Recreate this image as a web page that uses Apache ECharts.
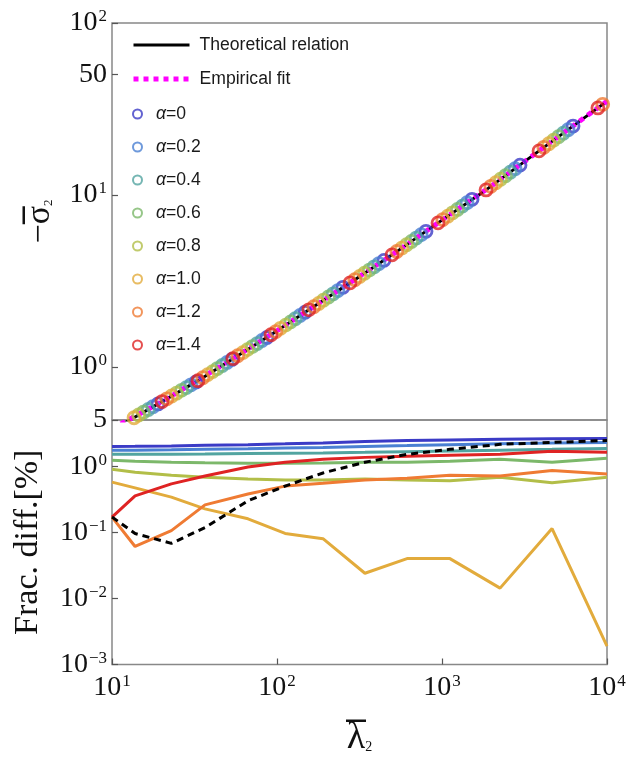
<!DOCTYPE html>
<html>
<head>
<meta charset="utf-8">
<script src="https://cdn.jsdelivr.net/npm/echarts@6/dist/echarts.min.js"></script>
<style>
  html, body { margin: 0; padding: 0; background: #fff; }
  #chart { width: 634px; height: 758px; }
</style>
</head>
<body>
<div id="chart"></div>
<script>
// ---- data ----
const alphaNames = ["α=0", "α=0.2", "α=0.4", "α=0.6", "α=0.8", "α=1.0", "α=1.2", "α=1.4"];
const alphaColors = ["#3b3bc6", "#4a80d2", "#52a4a0", "#7cb86a", "#b2be48", "#e2ab3c", "#ef7b33", "#df2323"];

// top panel: theoretical relation and empirical fit
const lambdaTheory = [10, 11.8, 20.1, 33.2, 54.1, 92, 156, 277, 498, 946, 1849, 3873, 8810, 10000];
const sigmaTheory = [0.43, 0.468, 0.627, 0.83, 1.114, 1.535, 2.143, 3.076, 4.477, 6.871, 10.69, 18.03, 32.06, 35.1];
const lambdaFit = [10, 20, 50, 100, 200, 500, 1000, 2000, 5000, 10000];
const sigmaFit = [0.436, 0.625, 1.064, 1.62, 2.51, 4.49, 7.13, 11.3, 21.6, 35.1];

// top panel: simulated points per alpha
const lamA00 = [19.0, 32.3, 53.3, 86.9, 148, 251, 445, 800, 1521, 2971, 6224];
const sigA00 = [0.608, 0.815, 1.103, 1.480, 2.075, 2.897, 4.159, 6.138, 9.420, 14.90, 25.13];
const lamA02 = [17.7, 30.1, 49.8, 81.1, 138, 234, 415, 747, 1419, 2774, 5810];
const sigA02 = [0.586, 0.785, 1.059, 1.421, 1.988, 2.775, 3.983, 5.865, 9.001, 14.21, 23.96];
const lamA04 = [16.6, 28.2, 46.6, 75.9, 129, 219, 388, 698, 1328, 2594, 5434];
const sigA04 = [0.564, 0.756, 1.017, 1.365, 1.903, 2.657, 3.814, 5.605, 8.603, 13.56, 22.86];
const lamA06 = [15.5, 26.4, 43.5, 71.0, 121, 205, 363, 653, 1241, 2426, 5081];
const sigA06 = [0.544, 0.729, 0.976, 1.310, 1.824, 2.546, 3.654, 5.359, 8.225, 12.92, 21.80];
const lamA08 = [14.5, 24.6, 40.7, 66.2, 113, 191, 339, 610, 1159, 2265, 4744];
const sigA08 = [0.524, 0.702, 0.937, 1.258, 1.747, 2.439, 3.500, 5.126, 7.867, 12.33, 20.79];
const lamA10 = [13.6, 23.0, 38.0, 62.0, 105, 179, 317, 570, 1084, 2119, 4438];
const sigA10 = [0.505, 0.676, 0.900, 1.208, 1.673, 2.336, 3.353, 4.898, 7.517, 11.76, 19.83];
const lamA12 = [12.6, 21.5, 35.5, 57.8, 98.4, 167, 296, 532, 1011, 1977, 4140, 9418];
const sigA12 = [0.486, 0.651, 0.864, 1.160, 1.603, 2.237, 3.211, 4.683, 7.187, 11.21, 18.91, 33.63];
const lamA14 = [11.8, 20.1, 33.2, 54.1, 92.0, 156, 277, 498, 946, 1849, 3873, 8810];
const sigA14 = [0.468, 0.627, 0.830, 1.114, 1.535, 2.143, 3.076, 4.477, 6.871, 10.69, 18.03, 32.06];

// bottom panel: fractional difference [%]
const lambdaDiff = [10, 13.8, 22.9, 36.6, 66.7, 112, 190, 341, 614, 1117, 2249, 4645, 10000];
const diffA00 = [1.99, 2.00, 2.03, 2.07, 2.12, 2.18, 2.25, 2.37, 2.44, 2.50, 2.55, 2.60, 2.63];
const diffA02 = [1.74, 1.75, 1.77, 1.80, 1.84, 1.88, 1.92, 1.99, 2.05, 2.12, 2.18, 2.24, 2.29];
const diffA04 = [1.51, 1.51, 1.52, 1.53, 1.55, 1.57, 1.59, 1.62, 1.66, 1.70, 1.75, 1.80, 1.86];
const diffA06 = [1.23, 1.19, 1.15, 1.13, 1.11, 1.11, 1.12, 1.15, 1.15, 1.19, 1.27, 1.15, 1.32];
const diffA08 = [0.90, 0.81, 0.73, 0.68, 0.64, 0.62, 0.62, 0.64, 0.62, 0.60, 0.68, 0.56, 0.68];
const diffA10 = [0.575, 0.47, 0.34, 0.226, 0.16, 0.096, 0.080, 0.024, 0.040, 0.040, 0.0143, 0.114, 0.0019];
const diffA12 = [0.17, 0.061, 0.106, 0.26, 0.38, 0.50, 0.55, 0.62, 0.66, 0.73, 0.71, 0.86, 0.76];
const diffA14 = [0.17, 0.355, 0.54, 0.71, 0.97, 1.15, 1.27, 1.36, 1.41, 1.46, 1.51, 1.68, 1.62];
const diffTheory = [0.17, 0.096, 0.068, 0.118, 0.30, 0.50, 0.79, 1.15, 1.51, 1.80, 2.14, 2.29, 2.45];

// tick values
const xTicks = [10, 100, 1000, 10000];
const yTopTicks = [1, 10, 50, 100];
const yBottomTicks = [0.001, 0.01, 0.1, 1, 5];

const scatterLams = [lamA00, lamA02, lamA04, lamA06, lamA08, lamA10, lamA12, lamA14];
const scatterSigs = [sigA00, sigA02, sigA04, sigA06, sigA08, sigA10, sigA12, sigA14];
const diffSeries = [diffA00, diffA02, diffA04, diffA06, diffA08, diffA10, diffA12, diffA14];

function zip(xs, ys) {
  return xs.map((x, i) => [x, ys[i]]);
}

// "10^n" labels with superscript, plain numbers otherwise
function tickLabel(v) {
  const lg = Math.log10(v);
  const e = Math.round(lg);
  if (Math.abs(lg - e) < 1e-6) {
    return "{b|10}{s|" + (e < 0 ? "−" + (-e) : e) + "}";
  }
  return "{b|" + Math.round(v) + "}";
}

const serif = "Liberation Serif";
const ink = "#111";
const labelRich = {
  b: { fontFamily: serif, fontSize: 28, color: ink },
  s: { fontFamily: serif, fontSize: 17, color: ink, verticalAlign: "top", padding: [0, 0, 12, 1] },
};

const tickStyle = { show: true, inside: true, length: 6, lineStyle: { color: "#555", width: 1.2 } };

// overline drawn as a thin filled token above the symbol
const overline = (w) => ({ width: w, height: 2.5, lineHeight: 2.5, fontSize: 2, backgroundColor: ink });
const spacer = (w) => ({ width: w, height: 2.5, lineHeight: 2.5, fontSize: 2 });

const chart = echarts.init(document.getElementById("chart"));

const series = [];

series.push({
  name: "Theoretical relation",
  type: "line",
  xAxisIndex: 0,
  yAxisIndex: 0,
  data: zip(lambdaTheory, sigmaTheory),
  symbol: "none",
  lineStyle: { color: "#000", width: 3 },
  itemStyle: { color: "#000" },
  z: 1,
});

series.push({
  name: "Empirical fit",
  type: "line",
  xAxisIndex: 0,
  yAxisIndex: 0,
  data: zip(lambdaFit, sigmaFit),
  symbol: "none",
  lineStyle: { color: "#ff00ff", width: 5, type: [5, 5], cap: "butt" },
  itemStyle: { color: "#ff00ff" },
  z: 2,
});

alphaNames.forEach((name, i) => {
  series.push({
    name: name,
    type: "scatter",
    xAxisIndex: 0,
    yAxisIndex: 0,
    data: zip(scatterLams[i], scatterSigs[i]),
    symbol: "circle",
    symbolSize: 12,
    itemStyle: { color: "rgba(255,255,255,0)", borderColor: alphaColors[i], borderWidth: 2.8 },
    z: 3,
  });
});

alphaNames.forEach((name, i) => {
  series.push({
    name: "diff " + name,
    type: "line",
    xAxisIndex: 1,
    yAxisIndex: 1,
    data: zip(lambdaDiff, diffSeries[i]),
    symbol: "none",
    lineStyle: { color: alphaColors[i], width: 3 },
    z: 2,
  });
});

series.push({
  name: "diff theory",
  type: "line",
  xAxisIndex: 1,
  yAxisIndex: 1,
  data: zip(lambdaDiff, diffTheory),
  symbol: "none",
  lineStyle: { color: "#000", width: 3, type: [7, 5] },
  z: 3,
});

const option = {
  animation: false,
  backgroundColor: "#fff",
  grid: [
    { left: 112, top: 23, width: 495, height: 397, show: true, borderColor: "#888", borderWidth: 1.5 },
    { left: 112, top: 420, width: 495, height: 247, show: true, borderColor: "#888", borderWidth: 1.5 },
  ],
  legend: [
    {
      data: ["Theoretical relation", "Empirical fit"],
      orient: "vertical",
      left: 131,
      top: 36,
      padding: 0,
      itemWidth: 56,
      itemHeight: 14,
      itemGap: 16,
      selectedMode: false,
      itemStyle: { opacity: 0 },
      lineStyle: { width: "inherit" },
      textStyle: { fontFamily: "Liberation Sans", fontSize: 17.6, color: "#1a1a1a", lineHeight: 18, padding: [0, 0, 0, 5] },
    },
    {
      data: alphaNames,
      orient: "vertical",
      left: 132,
      top: 105,
      padding: 0,
      itemWidth: 9,
      itemHeight: 9,
      itemGap: 15,
      icon: "circle",
      selectedMode: false,
      formatter: function (name) {
        return "{i|α}" + name.slice(1);
      },
      textStyle: {
        fontFamily: "Liberation Sans",
        fontSize: 17.6,
        color: "#1a1a1a",
        lineHeight: 18,
        padding: [0, 0, 0, 9],
        rich: {
          i: { fontFamily: "Liberation Sans", fontStyle: "italic", fontSize: 17.6, color: "#1a1a1a" },
        },
      },
    },
  ],
  xAxis: [
    {
      type: "log",
      gridIndex: 0,
      min: 10,
      max: 10000,
      axisLine: { show: false },
      axisTick: { show: false },
      axisLabel: { show: false },
      splitLine: { show: false },
    },
    {
      type: "log",
      gridIndex: 1,
      min: 10,
      max: 10000,
      axisLine: { show: false },
      axisTick: Object.assign({ customValues: xTicks }, tickStyle),
      axisLabel: { customValues: xTicks, formatter: tickLabel, rich: labelRich, margin: 9 },
      splitLine: { show: false },
      name: "{ov| }{sp| }\n{lam|λ}{sub|2}",
      nameLocation: "middle",
      nameGap: 55,
      nameTextStyle: {
        fontFamily: serif,
        fontSize: 38,
        color: ink,
        rich: {
          ov: overline(20),
          sp: spacer(7),
          lam: { fontFamily: serif, fontSize: 38, color: ink, lineHeight: 32 },
          sub: { fontFamily: serif, fontSize: 14, color: ink, verticalAlign: "bottom", lineHeight: 32 },
        },
      },
    },
  ],
  yAxis: [
    {
      type: "log",
      gridIndex: 0,
      min: 0.49,
      max: 100,
      axisLine: { show: false },
      axisTick: Object.assign({ customValues: yTopTicks }, tickStyle),
      axisLabel: { customValues: yTopTicks, formatter: tickLabel, rich: labelRich, margin: 5 },
      splitLine: { show: false },
      name: "{sp1| }{ov| }{sp2| }\n{sig|−σ}{sub|2}",
      nameLocation: "middle",
      nameRotate: 90,
      nameGap: 57,
      nameTextStyle: {
        fontFamily: serif,
        fontSize: 34,
        color: ink,
        rich: {
          sp1: spacer(19),
          ov: overline(18),
          sp2: spacer(6.5),
          sig: { fontFamily: serif, fontSize: 34, color: ink, lineHeight: 30 },
          sub: { fontFamily: serif, fontSize: 13, color: ink, verticalAlign: "bottom", lineHeight: 30 },
        },
      },
    },
    {
      type: "log",
      gridIndex: 1,
      min: 0.001,
      max: 5,
      axisLine: { show: false },
      axisTick: Object.assign({ customValues: yBottomTicks }, tickStyle),
      axisLabel: { customValues: yBottomTicks, formatter: tickLabel, rich: labelRich, margin: 5 },
      splitLine: { show: false },
      name: "Frac. diff.[%]",
      nameLocation: "middle",
      nameRotate: 90,
      nameGap: 67,
      nameTextStyle: { fontFamily: serif, fontSize: 34, color: ink },
    },
  ],
  series: series,
};

chart.setOption(option);
</script>
</body>
</html>
